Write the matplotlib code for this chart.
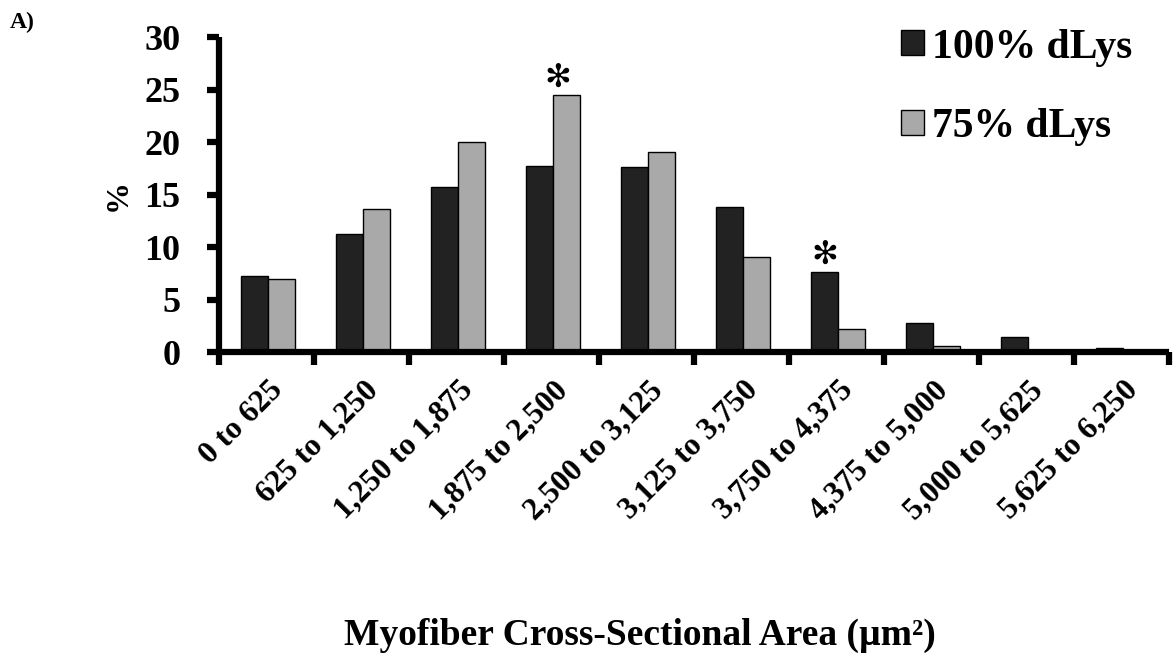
import matplotlib
matplotlib.use("Agg")
import matplotlib.pyplot as plt
import numpy as np

# Fiber-size bins and the share of fibers in each bin (%)
categories = ["0 to 625", "625 to 1,250", "1,250 to 1,875", "1,875 to 2,500",
              "2,500 to 3,125", "3,125 to 3,750", "3,750 to 4,375",
              "4,375 to 5,000", "5,000 to 5,625", "5,625 to 6,250"]
dlys_100 = [7.2, 11.2, 15.7, 17.7, 17.6, 13.8, 7.6, 2.8, 1.4, 0.35]
dlys_75 = [7.0, 13.6, 20.0, 24.5, 19.1, 9.1, 2.2, 0.6, 0.0, 0.0]
series_names = ["100% dLys", "75% dLys"]
yticks = [0, 5, 10, 15, 20, 25, 30]
# (category index, series index) of bars flagged as significant
significant = [(3, 1), (6, 0)]

serif = ["Liberation Serif", "DejaVu Serif"]
plt.rcParams["font.family"] = serif
plt.rcParams["font.weight"] = "bold"

dark = "#222222"
light = "#a9a9a9"

fig = plt.figure(figsize=(11.75, 6.58), dpi=100)
ax = fig.add_axes([0.1864, 0.465, 0.8085, 0.4785])

n = len(categories)
centers = np.arange(n) + 0.52
w = 0.285
ax.bar(centers - w / 2, dlys_100, width=w, color=dark, edgecolor="black",
       linewidth=1.0, label=series_names[0], zorder=2)
ax.bar(centers + w / 2, dlys_75, width=w, color=light, edgecolor="black",
       linewidth=1.0, label=series_names[1], zorder=2)

ax.set_xlim(0, n)
ax.set_ylim(0, 30)
ax.set_yticks(yticks)
ax.set_yticklabels([str(t) for t in yticks], fontsize=26, fontweight="bold")
ax.set_xticks(np.arange(n + 1))
ax.set_xticklabels([])
ax.set_xticks(centers, minor=True)
ax.set_xticklabels(categories, minor=True, rotation=45, ha="right",
                   rotation_mode="anchor", fontsize=22.5, fontweight="bold")
ax.tick_params(axis="x", which="minor", length=0, pad=17)

for s in ["top", "right"]:
    ax.spines[s].set_visible(False)
for s in ["left", "bottom"]:
    ax.spines[s].set_linewidth(4.5)
    ax.spines[s].set_capstyle("butt")
ax.tick_params(axis="y", which="major", direction="out", length=9, width=4.5, pad=19)
ax.tick_params(axis="x", which="major", direction="out", length=9, width=4.5)

ax.set_ylabel("%", fontsize=23, fontweight="bold", labelpad=8)

fig.text(0.545, 0.035, "Myofiber Cross-Sectional Area (\u00b5m\u00b2)", fontsize=27,
         fontweight="bold", ha="center", va="center")

# significance markers
for ci, si in significant:
    vals = dlys_100 if si == 0 else dlys_75
    x = centers[ci] + (w / 2 if si == 1 else -w / 2)
    if si == 1:
        x -= 0.1
    ax.annotate("\u273b", xy=(x, vals[ci]), xytext=(0, 12),
                textcoords="offset points", ha="center", va="center",
                fontsize=23, fontweight="normal", family=["DejaVu Sans"])

ax.legend(loc="upper left", bbox_to_anchor=(0.70, 1.08), frameon=False,
          fontsize=30, handlelength=0.55, handleheight=0.55,
          handletextpad=0.2, labelspacing=1.0, borderaxespad=0)

fig.text(0.008, 0.982, "A)", fontsize=17, fontweight="bold", va="top")

fig.savefig("out.png", dpi=100)
